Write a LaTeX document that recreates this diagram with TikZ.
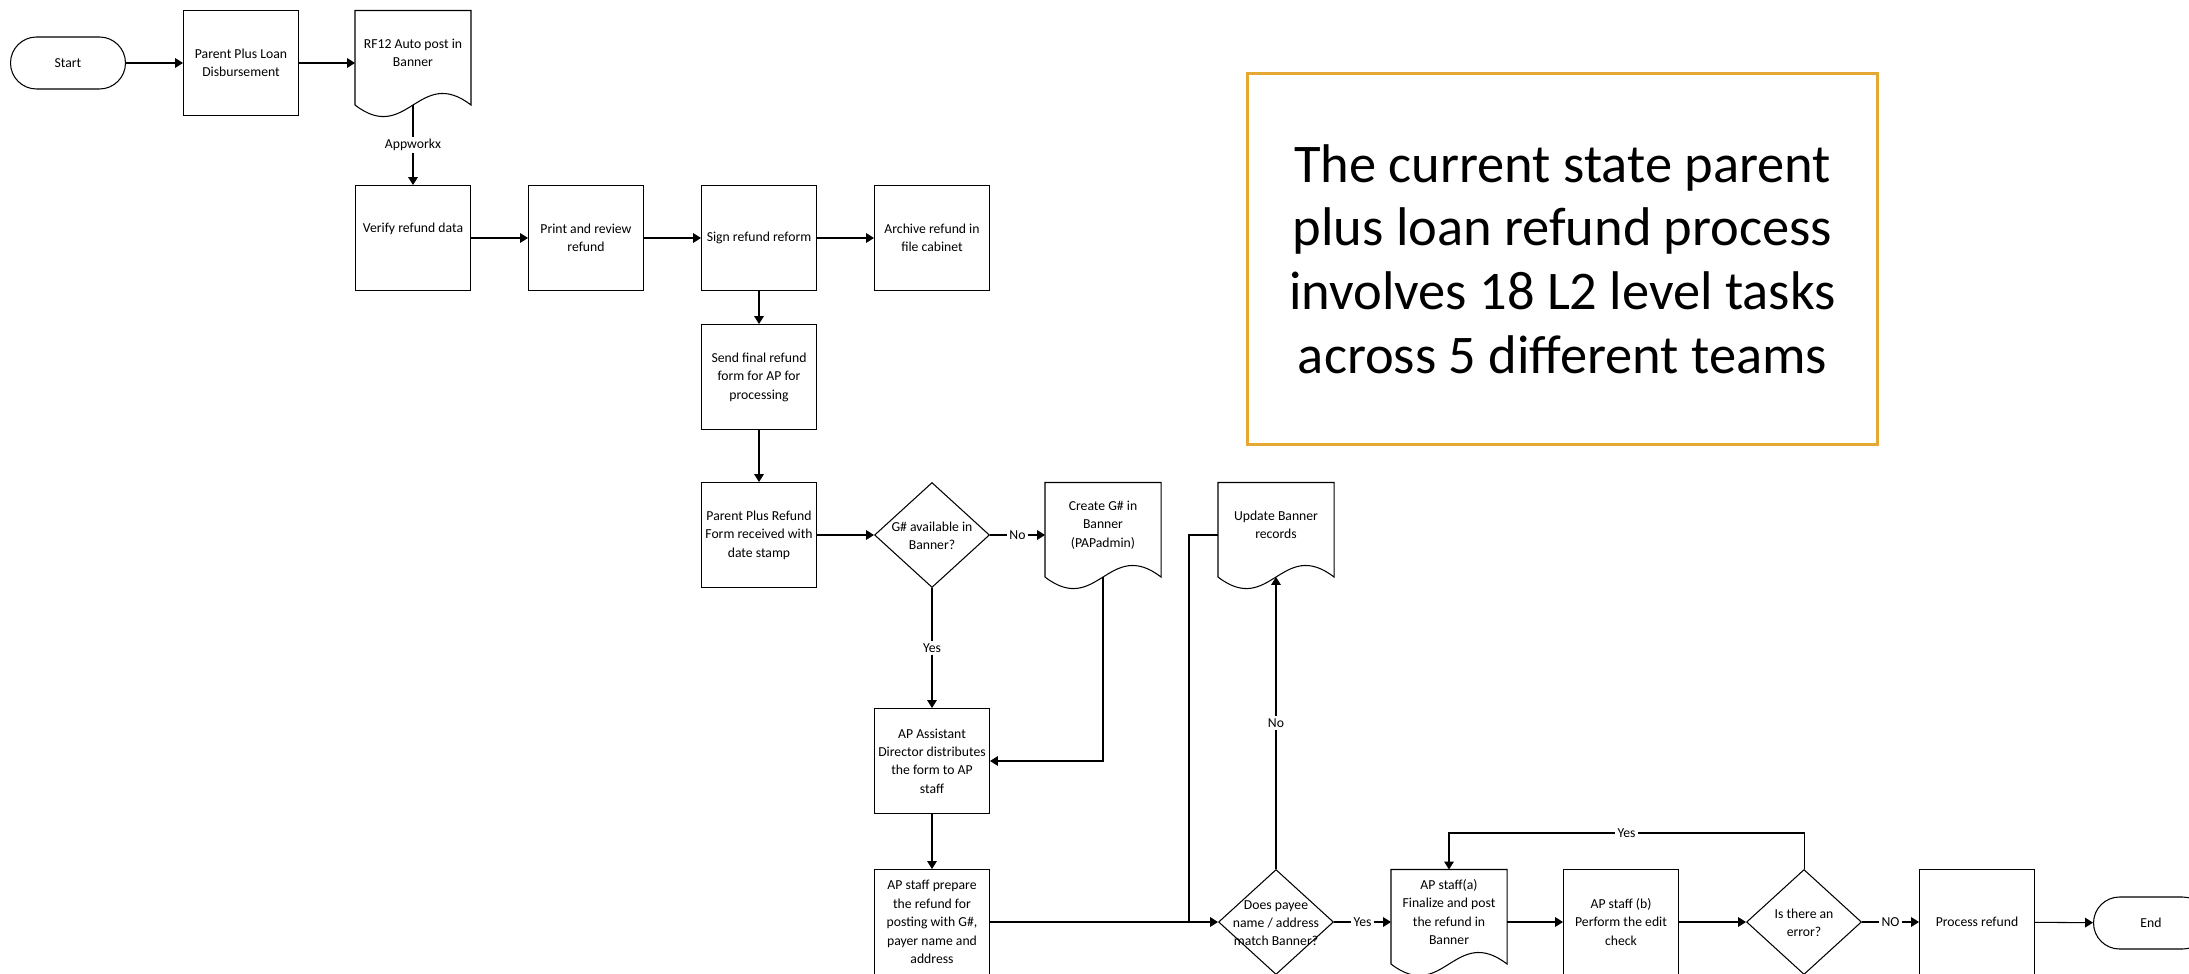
\documentclass[tikz,border=0pt]{standalone}
\usepackage{fontspec}
\setmainfont{Carlito}
\usepackage{tikz}
\usetikzlibrary{arrows.meta,positioning,calc,shapes.geometric}
\definecolor{ppink}{HTML}{000000}
\definecolor{ppgold}{HTML}{E5A832}
\newcommand{\ppfont}{\fontsize{7.8}{10.5}\selectfont}
\newcommand{\ppdtext}[1]{\makebox[0pt]{\smash{\raisebox{-3pt}{\begin{tabular}{@{}c@{}}#1\end{tabular}}}}}
\newcommand{\ppdocline}[1]{%
  \draw[ppline] (#1.north west) -- (#1.north east) -- ($(#1.south east)+(0,9.5)$)
    .. controls +(-52,-40) and +(52,40) .. ($(#1.south west)+(0,9.5)$) -- cycle;
  \coordinate (#1-w) at ($(#1.south)+(0,9.5)$);}
\tikzset{
  ppline/.style={draw=ppink, line width=0.6pt},
  ppbox/.style={ppline, rectangle, minimum width=2.3cm, minimum height=2.1cm,
                inner sep=1pt, align=center, font=\ppfont},
  ppdoc/.style={ppbox, draw=none, minimum height=1.68cm},
  ppdecision/.style={ppline, diamond, minimum width=2.3cm, minimum height=2.1cm,
                     inner sep=0pt, font=\ppfont},
  ppterm/.style={ppline, rectangle, rounded corners=0.52cm, minimum width=2.3cm,
                 minimum height=1.04cm, font=\ppfont},
  ppedge/.style={-{Triangle[length=4.5pt,width=5.5pt]}, draw=ppink, line width=0.6pt},
  pplabel/.style={fill=white, inner sep=1.2pt, font=\ppfont},
  ppnote/.style={draw=ppgold, line width=1.7pt, minimum width=12.62cm, minimum height=7.44cm,
                 align=center, font=\fontsize{31}{36.2}\selectfont},
}
\begin{document}
\begin{tikzpicture}[x=0.02cm, y=-0.02cm]
  \path[use as bounding box, fill=white] (0,0) rectangle (2189,973);

  \node[ppterm] (start) at (68,63) {Start};
  \node[ppbox] (ppl) at (241,63) {Parent Plus Loan\\Disbursement};
  \node[ppdoc] (rf12) at (413,53) {RF12 Auto post in\\Banner};
  \node[ppbox, text depth=0.4cm] (verify) at (413,238) {Verify refund data};
  \node[ppbox] (printrev) at (586,238) {Print and review\\refund};
  \node[ppbox] (signref) at (759,238) {Sign refund reform};
  \node[ppbox] (archive) at (932,238) {Archive refund in\\file cabinet};
  \node[ppbox] (sendfin) at (759,377) {Send final refund\\form for AP for\\processing};
  \node[ppbox] (ppform) at (759,535) {Parent Plus Refund\\Form received with\\date stamp};
  \node[ppdecision] (gq) at (932,535) {\ppdtext{G\# available in\\Banner?}};
  \node[ppdoc] (creategq) at (1103,525) {Create G\# in\\Banner\\(PAPadmin)};
  \node[ppdoc] (updbanner) at (1276,525) {Update Banner\\records};
  \node[ppbox] (apasst) at (932,761) {AP Assistant\\Director distributes\\the form to AP\\staff};
  \node[ppbox] (apprep) at (932,922) {AP staff prepare\\the refund for\\posting with G\#,\\payer name and\\address};
  \node[ppdecision] (payee) at (1276,922) {\ppdtext{Does payee\\name / address\\match Banner?}};
  \node[ppdoc] (apsa) at (1449,912) {AP staff(a)\\Finalize and post\\the refund in\\Banner};
  \node[ppbox] (apsb) at (1621,922) {AP staff (b)\\Perform the edit\\check};
  \node[ppdecision] (errq) at (1804,922) {\ppdtext{Is there an\\error?}};
  \node[ppbox] (procref) at (1977,922) {Process refund};
  \node[ppterm] (endt) at (2151,923) {End};
  \coordinate (join) at (1189,922);

  \ppdocline{rf12}
  \ppdocline{creategq}
  \ppdocline{updbanner}
  \ppdocline{apsa}

  \draw[ppedge] (start) -- (ppl);
  \draw[ppedge] (ppl) -- (ppl -| rf12.west);
  \draw[ppedge] (rf12-w) -- node[pplabel] {Appworkx} (verify);
  \draw[ppedge] (verify) -- (printrev);
  \draw[ppedge] (printrev) -- (signref);
  \draw[ppedge] (signref) -- (archive);
  \draw[ppedge] (signref) -- (sendfin);
  \draw[ppedge] (sendfin) -- (ppform);
  \draw[ppedge] (ppform) -- (gq);
  \draw[ppedge] (gq) -- node[pplabel] {No} (gq -| creategq.west);
  \draw[ppedge] (gq) -- node[pplabel] {Yes} (apasst);
  \draw[ppedge] (creategq-w) |- (apasst);
  \draw[ppedge] (apasst) -- (apprep);
  \draw[ppedge] (apprep) -- (payee);
  \draw[ppline] (updbanner.west |- gq) -| (join);
  \draw[ppedge] (payee) -- node[pplabel] {No} (updbanner-w);
  \draw[ppedge] (payee) -- node[pplabel] {Yes} (payee -| apsa.west);
  \draw[ppedge] (apsa.east |- apsb) -- (apsb);
  \draw[ppedge] (apsb) -- (errq);
  \draw[ppedge] (errq.north) -- ++(0,-36) -| node[pplabel, pos=0.25] {Yes} (apsa.north);
  \draw[ppedge] (errq) -- node[pplabel] {NO} (procref);
  \draw[ppedge] (procref) -- (endt);

  \node[ppnote] (note) at (1562.5,259) {The current state parent\\plus loan refund process\\involves 18 L2 level tasks\\across 5 different teams};
\end{tikzpicture}
\end{document}
